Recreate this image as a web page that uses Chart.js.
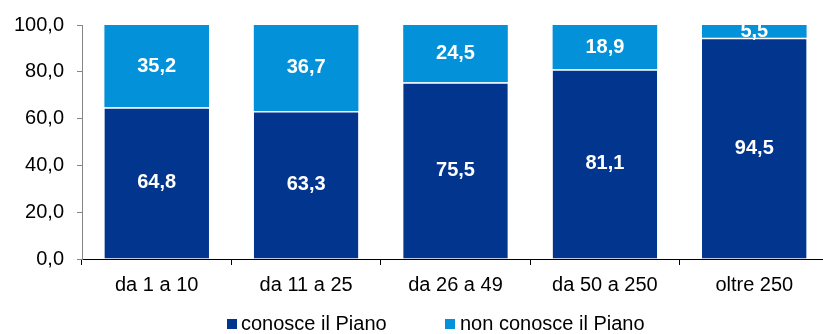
<!DOCTYPE html>
<html lang="it">
<head>
    <meta charset="UTF-8">
    <title>Conoscenza del Piano per classe di addetti</title>
    <script src="https://cdn.jsdelivr.net/npm/chart.js"></script>
    <style>
        body {
            margin: 0;
            padding: 0;
            background: #ffffff;
            font-family: Arial, "Liberation Sans", sans-serif;
            overflow: hidden;
        }
        #wrap {
            position: relative;
            width: 823px;
            height: 334px;
        }
        #chart {
            position: absolute;
            left: 0;
            top: 0;
        }
        .leg-box {
            position: absolute;
            width: 10px;
            height: 10px;
            top: 319px;
        }
        .leg-text {
            position: absolute;
            top: 312px;
            font-size: 20px;
            line-height: 22px;
            color: #000;
            white-space: nowrap;
        }
    </style>
</head>
<body>
<div id="wrap">
    <canvas id="chart" width="829" height="334"></canvas>
    <div id="legend"></div>
</div>

<script>
    // classi dimensionali (numero di addetti)
    var categories = ['da 1 a 10', 'da 11 a 25', 'da 26 a 49', 'da 50 a 250', 'oltre 250'];
    var seriesNames = ['conosce il Piano', 'non conosce il Piano'];
    var conosce = [64.8, 63.3, 75.5, 81.1, 94.5];
    var nonConosce = [35.2, 36.7, 24.5, 18.9, 5.5];
    var yTicks = [0, 20, 40, 60, 80, 100];
    var colors = ['#02358e', '#0391da'];

    var FONT = 'Arial, "Liberation Sans", sans-serif';

    function fmt(v) {
        return v.toFixed(1).replace('.', ',');
    }

    // scrive il valore al centro di ogni segmento
    var valueLabels = {
        id: 'valueLabels',
        afterDatasetsDraw: function (chart) {
            var ctx = chart.ctx;
            ctx.save();
            ctx.font = 'bold 20px ' + FONT;
            ctx.fillStyle = '#ffffff';
            ctx.textAlign = 'center';
            ctx.textBaseline = 'middle';
            chart.data.datasets.forEach(function (ds, i) {
                var meta = chart.getDatasetMeta(i);
                meta.data.forEach(function (bar, j) {
                    var p = bar.getProps(['x', 'y', 'base'], true);
                    ctx.fillText(fmt(ds.data[j]), p.x, (p.y + p.base) / 2);
                });
            });
            ctx.restore();
        }
    };

    var chart = new Chart(document.getElementById('chart'), {
        type: 'bar',
        data: {
            labels: categories,
            datasets: [{
                label: seriesNames[0],
                data: conosce,
                backgroundColor: colors[0],
                borderColor: '#ffffff',
                borderWidth: {top: 1.5, right: 0, bottom: 0, left: 0},
                borderSkipped: false
            }, {
                label: seriesNames[1],
                data: nonConosce,
                backgroundColor: colors[1],
                borderWidth: 0
            }]
        },
        options: {
            responsive: false,
            animation: false,
            layout: {padding: {top: 24, right: 0, bottom: 0, left: 0}},
            categoryPercentage: 1.0,
            barPercentage: 0.7,
            plugins: {
                legend: {display: false},
                tooltip: {enabled: false}
            },
            scales: {
                x: {
                    stacked: true,
                    grid: {
                        offset: true,
                        drawOnChartArea: false,
                        tickLength: 6,
                        color: '#000'
                    },
                    border: {color: '#000', width: 1},
                    ticks: {
                        color: '#000',
                        padding: 8,
                        maxRotation: 0,
                        font: {family: FONT, size: 20}
                    },
                    afterFit: function (s) { s.height = 75; }
                },
                y: {
                    stacked: true,
                    min: 0,
                    max: 100,
                    grid: {
                        drawOnChartArea: false,
                        tickLength: 5,
                        color: '#868686'
                    },
                    border: {color: '#868686', width: 1},
                    afterBuildTicks: function (s) {
                        s.ticks = yTicks.map(function (v) { return {value: v}; });
                    },
                    ticks: {
                        color: '#000',
                        padding: 13,
                        font: {family: FONT, size: 20},
                        callback: function (v) { return fmt(v); }
                    },
                    afterFit: function (s) { s.width = 82; }
                }
            }
        },
        plugins: [valueLabels]
    });

    // legenda sotto il grafico
    var legend = document.getElementById('legend');
    var boxLeft = [227, 445];
    var textLeft = [241, 460];
    seriesNames.forEach(function (name, i) {
        var b = document.createElement('div');
        b.className = 'leg-box';
        b.style.left = boxLeft[i] + 'px';
        b.style.background = colors[i];
        legend.appendChild(b);
        var t = document.createElement('div');
        t.className = 'leg-text';
        t.style.left = textLeft[i] + 'px';
        t.textContent = name;
        legend.appendChild(t);
    });
</script>
</body>
</html>
